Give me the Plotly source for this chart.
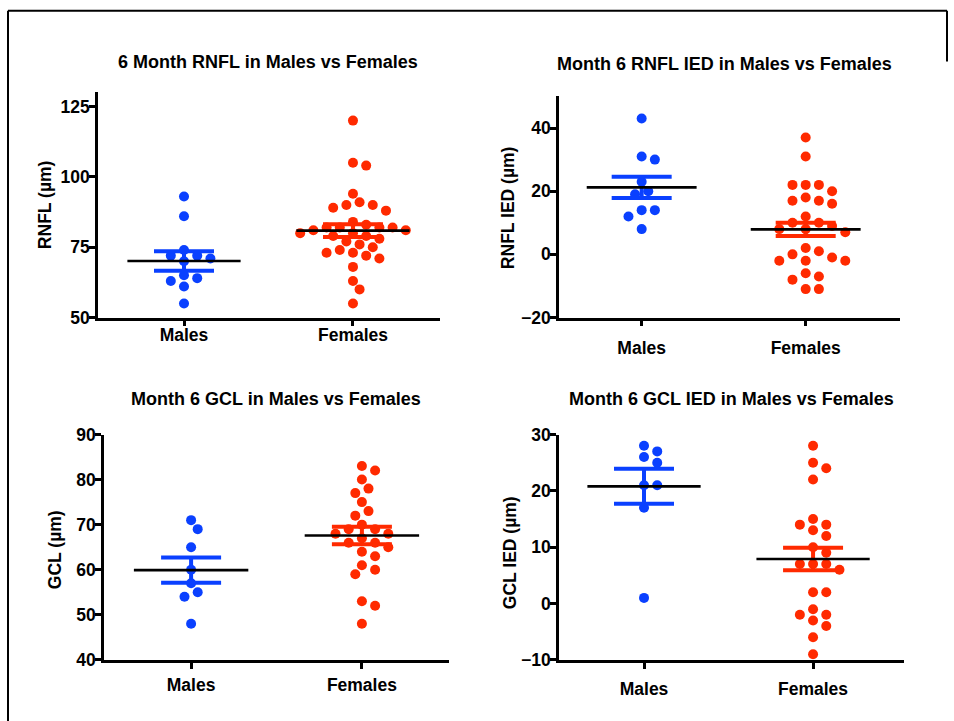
import numpy as np
import plotly.graph_objects as go

W, H = 954, 721
categories = ["Males", "Females"]

# ---- data ----
rnfl_males = [93, 86, 74, 72, 72, 71, 70, 65, 64, 63, 61, 55]
rnfl_females = [120, 105, 104, 94, 91, 90, 90, 89, 88, 84, 83, 82, 82, 82, 82, 81, 81,
                80, 80, 79, 79, 78, 77, 76, 75, 74, 73, 73, 72, 71, 68, 63, 60, 55]
rnfl_mean = [70.1, 80.9]
rnfl_sem = [3.5, 2.3]

rnfl_ied_males = [43, 31, 30, 23, 20, 19, 14, 14, 12, 8]
rnfl_ied_females = [37, 31, 22, 22, 22, 20, 18, 17, 17, 16, 12, 10, 10, 9, 8, 8, 7,
                    2, 1, 0, -1, -2, -2, -2, -6, -7, -8, -11, -11]
rnfl_ied_mean = [21.2, 7.9]
rnfl_ied_sem = [3.35, 2.1]

gcl_males = [71, 69, 65, 60, 57, 55, 54, 48]
gcl_females = [83, 82, 80, 78, 77, 75, 73, 72, 70, 69, 69, 68, 68, 67, 66, 66, 65,
               64, 63, 61, 60, 59, 53, 52, 48]
gcl_mean = [59.9, 67.6]
gcl_sem = [2.8, 1.95]

gcl_ied_males = [28, 27, 26, 25, 21, 21, 17, 1]
gcl_ied_females = [28, 25, 24, 22, 15, 14, 14, 13, 12, 10, 9, 7, 7, 7, 6, 2, 2,
                   -1, -2, -2, -3, -4, -6, -9]
gcl_ied_mean = [20.8, 7.9]
gcl_ied_sem = [3.1, 2.0]

BLUE = "#0a40ff"
RED = "#ff2a00"
colors = [BLUE, RED]
FONT = "Liberation Sans, Arial, sans-serif"

# the page is photographed with a slight vertical squeeze; map target px -> layout px
def ty(y):
    return (y - 8.3) / 0.975


panels = [
    dict(title="6 Month RNFL in Males vs Females", ytitle="RNFL (µm)",
         groups=[rnfl_males, rnfl_females], mean=rnfl_mean, sem=rnfl_sem,
         yrange=[50, 130], tickvals=[50, 75, 100, 125],
         box=(98, 440, 91, 316.7), xrange=(-0.509, 1.515),
         tpos=(268, 60), ytpos=(45, 204), standoff=-6),
    dict(title="Month 6 RNFL IED in Males vs Females", ytitle="RNFL IED (µm)",
         groups=[rnfl_ied_males, rnfl_ied_females], mean=rnfl_ied_mean, sem=rnfl_ied_sem,
         yrange=[-20, 50], tickvals=[-20, 0, 20, 40],
         box=(559, 900, 95, 316.7), xrange=(-0.504, 1.575),
         tpos=(724, 62), ytpos=(508, 206), standoff=7),
    dict(title="Month 6 GCL in Males vs Females", ytitle="GCL (µm)",
         groups=[gcl_males, gcl_females], mean=gcl_mean, sem=gcl_sem,
         yrange=[40, 90], tickvals=[40, 50, 60, 70, 80, 90],
         box=(104, 449, 434, 660), xrange=(-0.51, 1.51),
         tpos=(276, 398), ytpos=(55, 550), standoff=1),
    dict(title="Month 6 GCL IED in Males vs Females", ytitle="GCL IED (µm)",
         groups=[gcl_ied_males, gcl_ied_females], mean=gcl_ied_mean, sem=gcl_ied_sem,
         yrange=[-10, 30], tickvals=[-10, 0, 10, 20, 30],
         box=(559, 904, 434, 660), xrange=(-0.503, 1.538),
         tpos=(731, 398), ytpos=(510, 553), standoff=5),
]


def swarm(values, ppu_y, ppu_x, diam=10.5, step=6.6):
    """Simple beeswarm: offsets (in data units) so markers do not overlap."""
    placed = []
    res = [0.0] * len(values)
    order = sorted(range(len(values)), key=lambda i: -values[i])
    cands = [0.0]
    for j in range(1, 60):
        cands += [j * step, -j * step]
    for i in order:
        y = values[i] * ppu_y
        chosen = 0.0
        for c in cands:
            if all((c - px) ** 2 + (y - py) ** 2 >= diam ** 2 for px, py in placed):
                chosen = c
                break
        placed.append((chosen, y))
        res[i] = chosen / ppu_x
    return res


fig = go.Figure()
layout = dict(width=W, height=H, margin=dict(l=0, r=0, t=0, b=0),
              paper_bgcolor="white", plot_bgcolor="white", showlegend=False,
              font=dict(family=FONT, size=17, color="black"))
annotations = []

for k, p in enumerate(panels):
    n = k + 1
    xa = "x" if n == 1 else f"x{n}"
    ya = "y" if n == 1 else f"y{n}"
    x0, x1, ytop, ybot = p["box"]
    ppu_x = (x1 - x0) / (p["xrange"][1] - p["xrange"][0])
    ppu_y = (ybot - ytop) / (p["yrange"][1] - p["yrange"][0])

    for i, vals in enumerate(p["groups"]):
        offs = swarm(vals, ppu_y, ppu_x)
        fig.add_trace(go.Scatter(
            x=[i + o for o in offs], y=vals, mode="markers",
            marker=dict(size=10, color=colors[i], line=dict(width=0)),
            xaxis=xa, yaxis=ya, hoverinfo="y"))
    for i in range(2):
        fig.add_trace(go.Scatter(
            x=[i], y=[p["mean"][i]], mode="markers",
            marker=dict(size=1, color=colors[i], opacity=0),
            error_y=dict(type="data", array=[p["sem"][i]], width=30,
                         thickness=4, color=colors[i]),
            xaxis=xa, yaxis=ya, hoverinfo="skip"))
    for i in range(2):
        fig.add_trace(go.Scatter(
            x=[i - 0.335, i + 0.335], y=[p["mean"][i]] * 2, mode="lines",
            line=dict(color="black", width=2.6), xaxis=xa, yaxis=ya,
            hoverinfo="skip"))

    common = dict(showline=True, linecolor="black", linewidth=2.6, ticks="outside",
                  ticklen=6, tickwidth=2.6, tickcolor="black", showgrid=False,
                  zeroline=False, tickfont=dict(family=FONT, size=17.5, weight="bold",
                                                color="black"))
    layout["xaxis" if n == 1 else f"xaxis{n}"] = dict(
        domain=[x0 / W, x1 / W], range=list(p["xrange"]), anchor=ya,
        tickvals=[0, 1], ticktext=categories, ticklabelstandoff=p["standoff"], **common)
    layout["yaxis" if n == 1 else f"yaxis{n}"] = dict(
        domain=[1 - ty(ybot) / H, 1 - ty(ytop) / H], range=p["yrange"], anchor=xa,
        tickvals=p["tickvals"], ticklabelstandoff=-4, **common)

    annotations.append(dict(text=p["title"], x=p["tpos"][0] / W, y=1 - ty(p["tpos"][1]) / H,
                            xref="paper", yref="paper", showarrow=False,
                            xanchor="center", yanchor="middle",
                            font=dict(family=FONT, size=18, weight="bold", color="black")))
    annotations.append(dict(text=p["ytitle"], x=p["ytpos"][0] / W, y=1 - ty(p["ytpos"][1]) / H,
                            xref="paper", yref="paper", showarrow=False, textangle=-90,
                            xanchor="center", yanchor="middle",
                            font=dict(family=FONT, size=17.5, weight="bold", color="black")))

layout["annotations"] = annotations
top = 1 - ty(9) / H
layout["shapes"] = [
    dict(type="line", xref="paper", yref="paper", x0=8 / W, x1=8 / W, y0=-0.05, y1=top,
         line=dict(color="black", width=2)),
    dict(type="line", xref="paper", yref="paper", x0=8 / W, x1=947 / W,
         y0=top, y1=top, line=dict(color="black", width=2)),
    dict(type="line", xref="paper", yref="paper", x0=947 / W, x1=947 / W,
         y0=1 - ty(60) / H, y1=top, line=dict(color="black", width=2)),
]
fig.update_layout(**layout)
fig.write_html("out.html")
